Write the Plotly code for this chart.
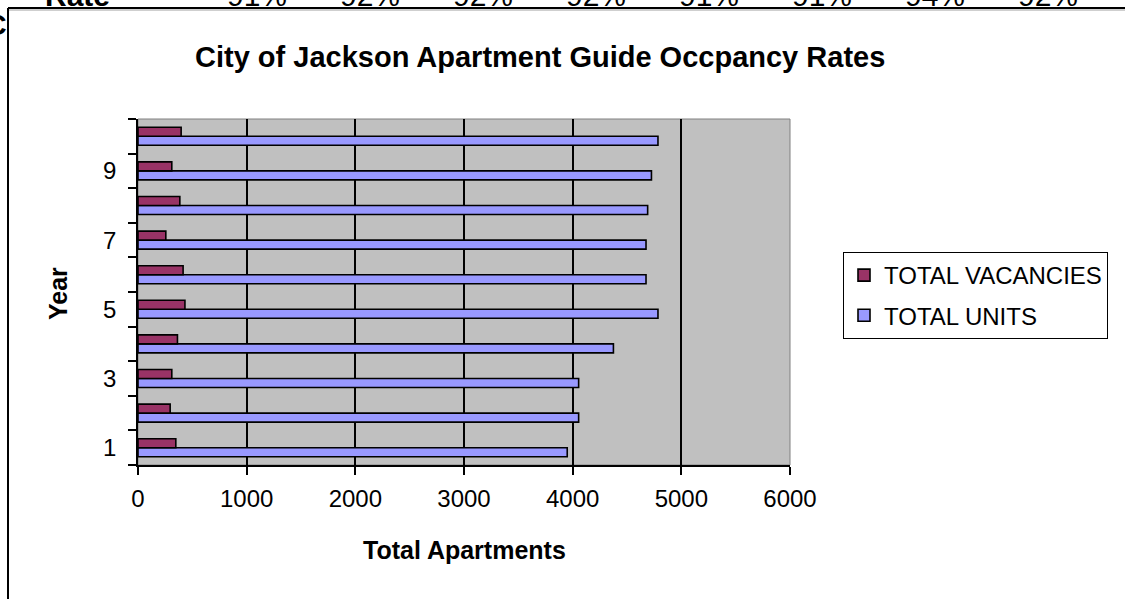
import plotly.graph_objects as go

# ---- data ----
years = [1, 2, 3, 4, 5, 6, 7, 8, 9, 10]
total_units = [3950, 4055, 4055, 4375, 4785, 4675, 4675, 4690, 4725, 4785]
total_vacancies = [348, 296, 311, 363, 432, 415, 256, 385, 311, 397]
x_ticks = [0, 1000, 2000, 3000, 4000, 5000, 6000]
y_tick_labels = [1, 3, 5, 7, 9]
rate_label = "Rate"
occupancy_rates = ["91%", "92%", "92%", "92%", "91%", "91%", "94%", "92%"]

FONT = "Arial, Liberation Sans, sans-serif"

# plot-area pixel geometry
L, R, T, B = 138, 790, 119, 465
W, H = R - L, B - T


def px(x):
    return (x - L) / W


def py(y):
    return (B - y) / H


fig = go.Figure()
fig.add_trace(go.Bar(
    y=years, x=total_units, orientation="h", name="TOTAL UNITS",
    marker=dict(color="#9999FF", line=dict(color="black", width=1.6)),
    legendgroup="u", legendrank=2,
))
fig.add_trace(go.Bar(
    y=years, x=total_vacancies, orientation="h", name="TOTAL VACANCIES",
    marker=dict(color="#993366", line=dict(color="black", width=1.6)),
    legendgroup="v", legendrank=1,
))

boundaries = [y - 0.5 for y in years] + [years[-1] + 0.5]

fig.update_layout(
    width=1125, height=599,
    margin=dict(l=L, r=1125 - R, t=T, b=599 - B),
    paper_bgcolor="white", plot_bgcolor="#C0C0C0",
    barmode="group", bargap=0.48, bargroupgap=0,
    font=dict(family=FONT, color="black"),
    showlegend=True,
    legend=dict(
        x=px(843), y=py(252), xanchor="left", yanchor="top",
        bordercolor="black", borderwidth=1, bgcolor="white",
        font=dict(size=24, family=FONT), traceorder="grouped",
        tracegroupgap=6, itemwidth=30,
    ),
    xaxis=dict(
        range=[0, 6000], tickvals=x_ticks, ticktext=[str(v) for v in x_ticks],
        showgrid=True, gridcolor="black", gridwidth=1.5, zeroline=False,
        showline=True, linecolor="black", linewidth=1.5,
        ticks="outside", ticklen=8, tickwidth=1.5, tickcolor="black",
        tickfont=dict(size=24, family=FONT), ticklabelstandoff=3,
    ),
    yaxis=dict(
        range=[0.5, 10.5], tickvals=y_tick_labels,
        ticktext=[str(v) for v in y_tick_labels],
        showgrid=False, zeroline=False,
        showline=True, linecolor="black", linewidth=1.5,
        ticks="", tickfont=dict(size=24, family=FONT), ticklabelstandoff=15,
        minor=dict(tickmode="array", tickvals=boundaries, ticks="outside",
                   ticklen=8, tickwidth=1.5, tickcolor="black", showgrid=False),
    ),
)

# plot area border (gray) and chart frame
shapes = [
    dict(type="rect", xref="paper", yref="paper", x0=0, x1=1, y0=0, y1=1,
         line=dict(color="#808080", width=1), layer="below"),
    dict(type="line", xref="paper", yref="paper", x0=px(8), x1=px(1130),
         y0=py(8), y1=py(8), line=dict(color="black", width=2)),
    dict(type="line", xref="paper", yref="paper", x0=px(7), x1=px(1130),
         y0=py(10), y1=py(10), line=dict(color="#A0A0A0", width=1)),
    dict(type="line", xref="paper", yref="paper", x0=px(8), x1=px(8),
         y0=py(8), y1=py(610), line=dict(color="black", width=2)),
]
fig.update_layout(shapes=shapes)

ann = []
ann.append(dict(text="<b>City of Jackson Apartment Guide Occpancy Rates</b>",
                x=px(540), y=py(57), xref="paper", yref="paper",
                xanchor="center", yanchor="middle", showarrow=False,
                font=dict(size=29, family=FONT)))
ann.append(dict(text="<b>Total Apartments</b>", x=px(464), y=py(550),
                xref="paper", yref="paper", xanchor="center", yanchor="middle",
                showarrow=False, font=dict(size=25, family=FONT)))
ann.append(dict(text="<b>Year</b>", x=px(58), y=py(294), xref="paper",
                yref="paper", xanchor="center", yanchor="middle", textangle=-90,
                showarrow=False, font=dict(size=25, family=FONT)))
# spreadsheet text behind the chart (cut off at top)
ann.append(dict(text="<b>" + rate_label + "</b>", x=px(43), y=py(14),
                xref="paper", yref="paper", xanchor="left", yanchor="bottom",
                showarrow=False, font=dict(size=30, family=FONT)))
ann.append(dict(text="<b>C</b>", x=px(9), y=py(6), xref="paper", yref="paper",
                xanchor="right", yanchor="top", showarrow=False,
                font=dict(size=30, family=FONT)))
for i, r in enumerate(occupancy_rates):
    ann.append(dict(text=r, x=px(257 + 113 * i), y=py(14), xref="paper",
                    yref="paper", xanchor="center", yanchor="bottom",
                    showarrow=False, font=dict(size=30, family=FONT)))
fig.update_layout(annotations=ann)

fig.write_html("out.html", config={"displayModeBar": False},
               post_script="document.body.style.margin='0px';")
